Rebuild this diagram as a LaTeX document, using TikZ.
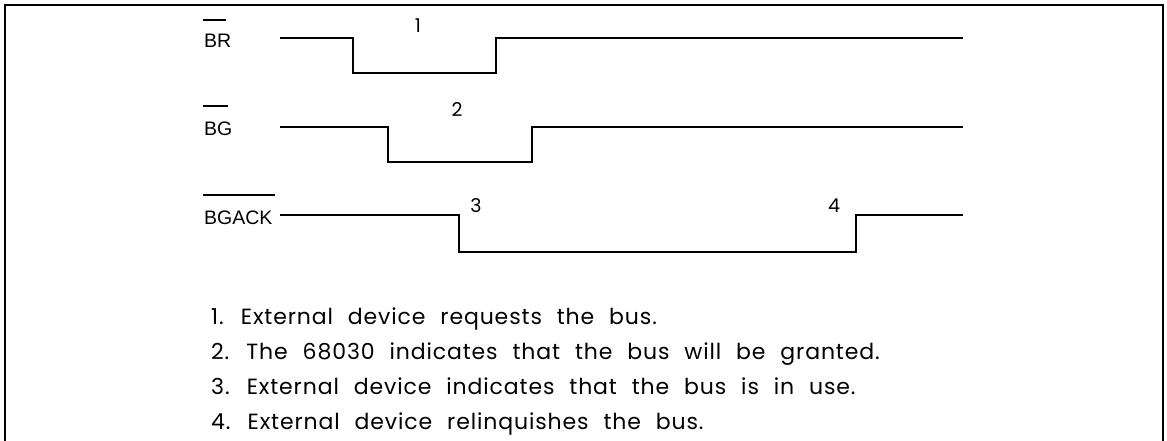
\documentclass[tikz,border=0pt]{standalone}
\usepackage{fontspec}
\setmainfont{Liberation Sans}
\newfontfamily\geofont[WordSpace=2.2,LetterSpace=4]{Poppins}
\begin{document}
\begin{tikzpicture}[x=1pt,y=-1pt,
  frame/.style={line width=1.5pt},
  wave/.style={line width=1.4pt, line join=miter},
  overbar/.style={line width=1.2pt},
  signame/.style={anchor=base west, inner sep=0pt, font=\fontsize{19.5}{21}\selectfont},
  evnum/.style={anchor=center, inner sep=0pt, font=\geofont\fontsize{19}{21}\selectfont},
  note/.style={anchor=base west, inner sep=0pt, font=\geofont\fontsize{22}{24}\selectfont}]
\useasboundingbox (0,0) rectangle (1167,440);

% open frame (bottom edge runs off the page)
\draw[frame] (5,450) -- (5,5) -- (1163,5) -- (1163,450);

% signal names with active-low bars
\node[signame] (br) at (204,47) {BR};
\draw[overbar] (203,20) -- (226,20);
\node[signame] (bg) at (204,135) {BG};
\draw[overbar] (203,106) -- (228,106);
\node[signame] (bgack) at (204,224) {BGACK};
\draw[overbar] (203,195) -- (275,195);

% waveforms
\draw[wave] (280,38) -- (353,38) -- (353,73) -- (496,73) -- (496,38) -- (963,38);
\draw[wave] (280,127) -- (388,127) -- (388,162) -- (532,162) -- (532,127) -- (963,127);
\draw[wave] (280,215) -- (459,215) -- (459,252) -- (856,252) -- (856,215) -- (963,215);

% event markers
\node[evnum] (e1) at (418,26) {1};
\node[evnum] (e2) at (457,110) {2};
\node[evnum] (e3) at (476,206) {3};
\node[evnum] (e4) at (834,206) {4};

% legend
\node[note] (n1) at (211,324) {1. External device requests the bus.};
\node[note] (n2) at (211,359) {2. The 68030 indicates that the bus will be granted.};
\node[note] (n3) at (211,394) {3. External device indicates that the bus is in use.};
\node[note] (n4) at (211,429) {4. External device relinquishes the bus.};
\end{tikzpicture}
\end{document}
